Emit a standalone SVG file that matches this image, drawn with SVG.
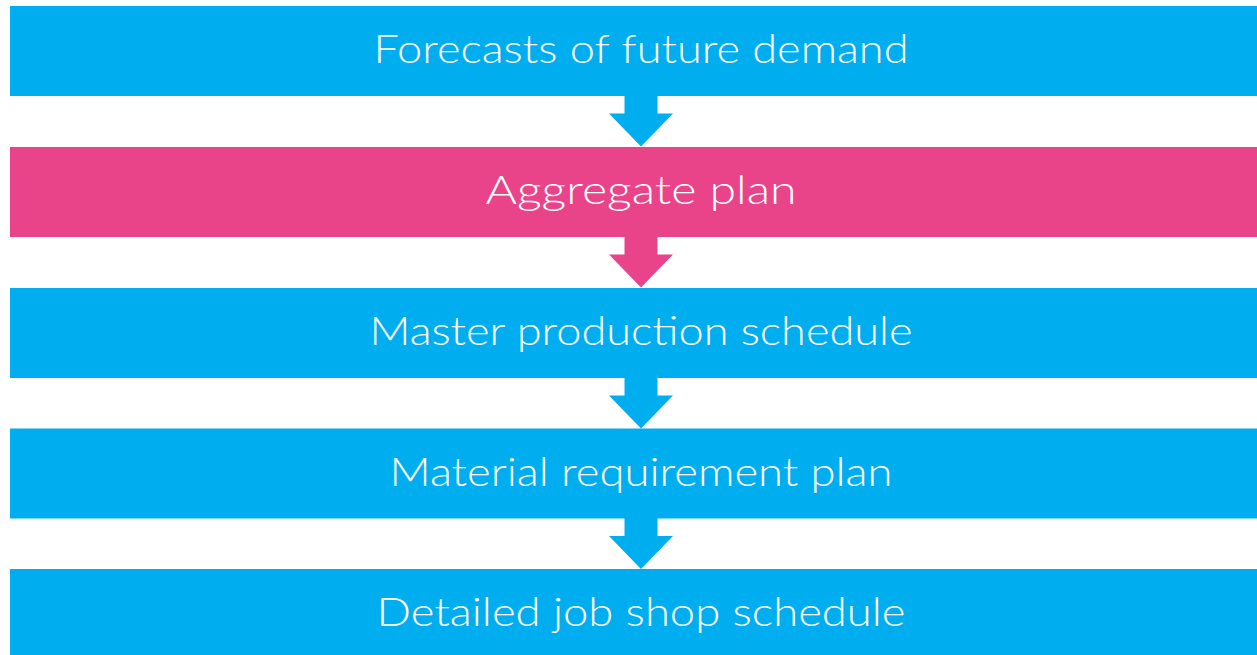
<svg xmlns="http://www.w3.org/2000/svg" width="1257" height="655" viewBox="0 0 1257 655">
  <defs>
    <style>
      .bar { fill: #00AEEF; }
      .bar.hl { fill: #E9448A; }
      .arrow { fill: #00AEEF; }
      .arrow.hl { fill: #E9448A; }
      .label { fill: #FFFFFF; font-family: Lato, "Liberation Sans", Arial, sans-serif; font-weight: 300; font-size: 39px; text-anchor: middle; }
    </style>
  </defs>
  <rect width="1257" height="655" fill="#FFFFFF"/>

  <!-- planning hierarchy, top to bottom -->
  <g id="forecasts">
    <rect class="bar" x="10" y="6" width="1247" height="90"/>
    <text class="label" x="641" y="63" textLength="535" lengthAdjust="spacingAndGlyphs">Forecasts of future demand</text>
  </g>
  <g id="aggregate-plan">
    <rect class="bar hl" x="10" y="147" width="1247" height="90"/>
    <text class="label" x="641" y="204" textLength="311" lengthAdjust="spacingAndGlyphs">Aggregate plan</text>
  </g>
  <g id="master-schedule">
    <rect class="bar" x="10" y="288" width="1247" height="90"/>
    <text class="label" x="641" y="345" textLength="543" lengthAdjust="spacingAndGlyphs">Master production schedule</text>
  </g>
  <g id="material-plan">
    <rect class="bar" x="10" y="428.5" width="1247" height="90"/>
    <text class="label" x="641" y="486" textLength="503" lengthAdjust="spacingAndGlyphs">Material requirement plan</text>
  </g>
  <g id="job-shop-schedule">
    <rect class="bar" x="10" y="569" width="1247" height="86"/>
    <text class="label" x="641" y="626" textLength="529" lengthAdjust="spacingAndGlyphs">Detailed job shop schedule</text>
  </g>

  <!-- block arrows between levels -->
  <g id="connectors">
    <path class="arrow" d="M624.5 95 H657.5 V113.5 H673 L641 146.5 L609 113.5 H624.5 Z"/>
    <path class="arrow hl" d="M624.5 236 H657.5 V254.5 H673 L641 287.5 L609 254.5 H624.5 Z"/>
    <path class="arrow" d="M624.5 377 H657.5 V395.5 H673 L641 428.5 L609 395.5 H624.5 Z"/>
    <path class="arrow" d="M624.5 517.5 H657.5 V536 H673 L641 569 L609 536 H624.5 Z"/>
  </g>
</svg>
